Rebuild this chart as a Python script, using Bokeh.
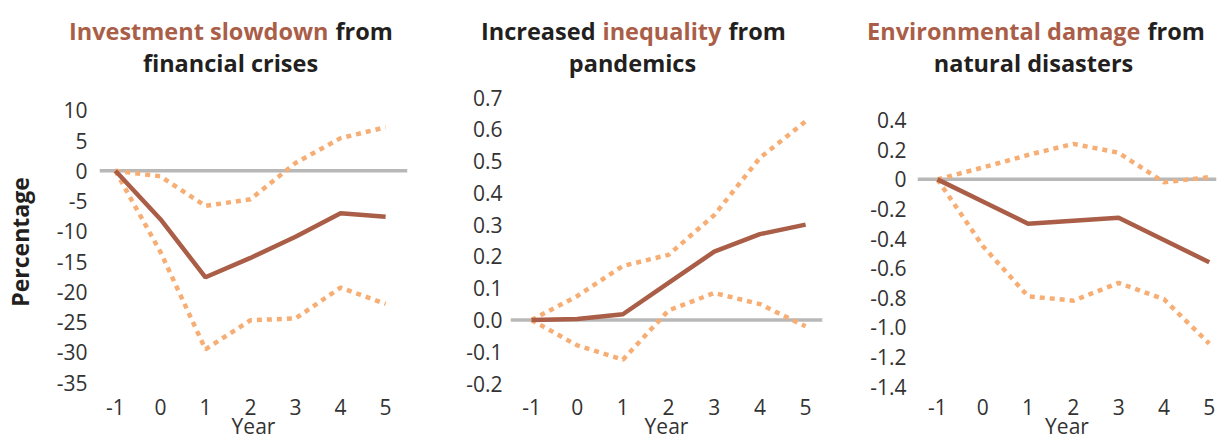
import math
from bokeh.plotting import figure
from bokeh.layouts import row, column
from bokeh.models import FixedTicker, Span, Range1d
from bokeh.core.properties import value
from bokeh.embed import file_html
from bokeh.resources import INLINE

# ---------------- data ----------------
years = [-1, 0, 1, 2, 3, 4, 5]
year_labels = ["-1", "0", "1", "2", "3", "4", "5"]

fin_mid = [0, -8.0, -17.6, -14.4, -10.9, -7.0, -7.6]
fin_up = [0, -0.9, -5.8, -4.7, 1.3, 5.4, 7.2]
fin_lo = [0, -13.4, -29.5, -24.7, -24.4, -19.3, -22.0]
fin_ticks = [10, 5, 0, -5, -10, -15, -20, -25, -30, -35]
fin_tick_labels = ["10", "5", "0", "-5", "-10", "-15", "-20", "-25", "-30", "-35"]

pan_mid = [0, 0.003, 0.018, 0.117, 0.215, 0.27, 0.30]
pan_up = [0, 0.075, 0.17, 0.205, 0.33, 0.51, 0.625]
pan_lo = [0, -0.08, -0.125, 0.03, 0.085, 0.05, -0.02]
pan_ticks = [0.7, 0.6, 0.5, 0.4, 0.3, 0.2, 0.1, 0.0, -0.1, -0.2]
pan_tick_labels = ["0.7", "0.6", "0.5", "0.4", "0.3", "0.2", "0.1", "0.0", "-0.1", "-0.2"]

dis_mid = [0, -0.15, -0.30, -0.28, -0.26, -0.41, -0.56]
dis_up = [0, 0.08, 0.165, 0.24, 0.18, -0.02, 0.015]
dis_lo = [0, -0.45, -0.79, -0.82, -0.70, -0.81, -1.11]
dis_ticks = [0.4, 0.2, 0, -0.2, -0.4, -0.6, -0.8, -1.0, -1.2, -1.4]
dis_tick_labels = ["0.4", "0.2", "0", "-0.2", "-0.4", "-0.6", "-0.8", "-1.0", "-1.2", "-1.4"]

# ---------------- style ----------------
BROWN = "#AA5E48"
ORANGE = "#F7AE74"
GRAY = "#B8B8B8"
DARK = "#231F20"
TICK = "#333333"
FONT = "Open Sans"
W = 1220
TOP_H = 80
PH = 362
FRAME_TOP = 97
FRAME_BOTTOM = 390


def panel(fig_left, fig_width, frame_left, frame_right, xr, yr, ticks,
          tick_labels, mid, up, lo, ystandoff):
    p = figure(width=fig_width, height=PH, x_range=Range1d(*xr),
               y_range=Range1d(*yr), output_backend="svg",
               toolbar_location=None,
               min_border_left=frame_left - fig_left,
               min_border_right=fig_left + fig_width - frame_right,
               min_border_top=FRAME_TOP - TOP_H,
               min_border_bottom=TOP_H + PH - FRAME_BOTTOM)
    p.outline_line_color = None
    p.grid.visible = False
    p.background_fill_color = "white"
    p.border_fill_color = "white"

    p.xaxis.ticker = FixedTicker(ticks=years)
    p.xaxis.major_label_overrides = dict(zip(years, year_labels))
    p.yaxis.ticker = FixedTicker(ticks=ticks)
    p.yaxis.major_label_overrides = dict(zip(ticks, tick_labels))
    for ax in (p.xaxis[0], p.yaxis[0]):
        ax.axis_line_color = None
        ax.major_tick_line_color = None
        ax.minor_tick_line_color = None
        ax.major_tick_in = 0
        ax.major_tick_out = 0
        ax.minor_tick_in = 0
        ax.minor_tick_out = 0
        ax.major_label_text_font = FONT
        ax.major_label_text_font_size = "21px"
        ax.major_label_text_color = TICK
        ax.axis_label_text_font = FONT
        ax.axis_label_text_color = TICK
    p.yaxis.major_label_standoff = ystandoff
    p.xaxis.major_label_standoff = 12
    p.xaxis.axis_label = "Year"
    p.xaxis.axis_label_text_font_size = "21px"
    p.xaxis.axis_label_text_font_style = "normal"
    p.xaxis.axis_label_standoff = -6

    p.add_layout(Span(location=0, dimension="width", line_color=GRAY,
                      line_width=3.5, level="underlay"))
    p.line(years, up, line_color=ORANGE, line_width=4.5, line_dash="5 5")
    p.line(years, lo, line_color=ORANGE, line_width=4.5, line_dash="5 5")
    p.line(years, mid, line_color=BROWN, line_width=4.5)
    return p


# Panel 1: -1 at x=113, 5 at 385; 10 at y=110, -35 at y=386
p1 = panel(0, 440, 97, 407, (-1.353, 5.486), (-35.652, 12.12),
           fin_ticks, fin_tick_labels, fin_mid, fin_up, fin_lo, 12)
p1.yaxis.axis_label = "Percentage"
p1.yaxis.axis_label_text_font_size = "23px"
p1.yaxis.axis_label_text_font_style = "bold"
p1.yaxis.axis_label_text_color = DARK
p1.yaxis.axis_label_standoff = 18

# Panel 2: -1 at x=531, 5 at 805; 0.7 at y=97, -0.2 at y=387
p2 = panel(440, 390, 510, 822, (-1.46, 5.37), (-0.2093, 0.7),
           pan_ticks, pan_tick_labels, pan_mid, pan_up, pan_lo, 8)

# Panel 3: -1 at x=937, 5 at 1209; 0.4 at y=120, -1.4 at y=390
p3 = panel(830, 390, 917, 1216, (-1.44, 5.16), (-1.4, 0.5533),
           dis_ticks, dis_tick_labels, dis_mid, dis_up, dis_lo, 11)

# ---------------- title strip ----------------
t = figure(width=W, height=TOP_H, x_range=Range1d(0, W), y_range=Range1d(TOP_H, 0),
           output_backend="svg", toolbar_location=None, x_axis_type=None,
           y_axis_type=None, min_border_left=0, min_border_right=0,
           min_border_top=0, min_border_bottom=0)
t.outline_line_color = None
t.grid.visible = False
t.border_fill_color = "white"

titles = [
    # text, x, baseline y, colour, align
    ("Investment slowdown", 328, 30, BROWN, "right"),
    ("from", 335, 30, DARK, "left"),
    ("financial crises", 230, 62, DARK, "center"),
    ("Increased", 595, 30, DARK, "right"),
    ("inequality", 602, 30, BROWN, "left"),
    ("from", 728, 30, DARK, "left"),
    ("pandemics", 632, 62, DARK, "center"),
    ("Environmental damage", 1140, 30, BROWN, "right"),
    ("from", 1147, 30, DARK, "left"),
    ("natural disasters", 1033, 62, DARK, "center"),
]
for txt, x, y, col, al in titles:
    t.text(x=[x], y=[y], text=[txt], text_color=col, text_align=value(al),
           text_baseline=value("alphabetic"), text_font=value(FONT),
           text_font_size=value("23.5px"), text_font_style=value("bold"))

layout = column(t, row(p1, p2, p3, spacing=0), spacing=0)
open("out.html", "w").write(file_html(layout, INLINE))
